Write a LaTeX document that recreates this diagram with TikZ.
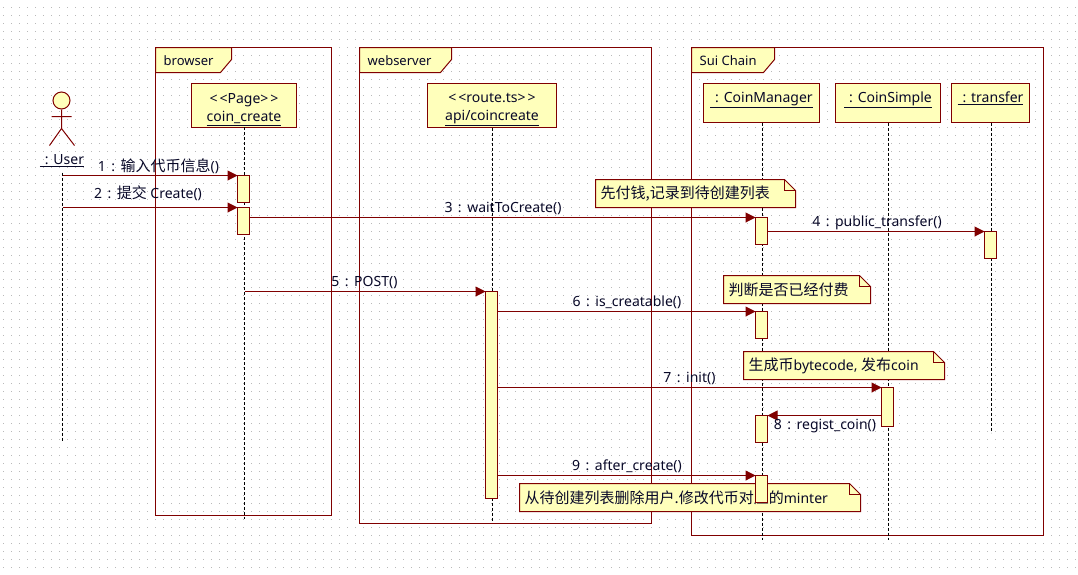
\documentclass[tikz,border=0pt]{standalone}
\usepackage{fontspec}
\setmainfont{Noto Sans}
\newfontfamily\cjk{Noto Sans CJK SC}
\usetikzlibrary{arrows.meta}
\definecolor{umlline}{RGB}{128,0,0}
\definecolor{umlfill}{RGB}{255,255,187}
\definecolor{umlink}{RGB}{8,8,40}
\definecolor{griddot}{RGB}{185,185,185}
\newcommand{\zh}[1]{{\cjk\fontsize{15}{19}\selectfont #1}}
% Message number followed by the wide colon spacing
\newcommand{\seqno}[1]{#1\hspace{5.5pt}:\hspace{5.5pt}}
% Stereotype guillemets written as spaced chevrons
\newcommand{\stereo}[1]{<\kern2pt<#1>\kern2pt>}
% Sticky note: name, left, top, right, bottom, text
\newcommand{\stickynote}[6]{%
  \node[notebody, anchor=north west, minimum width=#4-#2, minimum height=#5-#3] (#1) at (#2,#3) {};
  \draw[umledge, fill=umlfill] (#2,#3) -- (#4-11,#3) -- (#4,#3+11) -- (#4,#5) -- (#2,#5) -- cycle;
  \draw[umledge] (#4-11,#3) -- (#4-11,#3+11) -- (#4,#3+11);
  \node[notetext] (#1text) at (#2+5,#3+14) {#6};
}
% Package frame: name, left, top, right, bottom, tab right, text
\newcommand{\umlframe}[7]{%
  \node[framebody, anchor=north west, minimum width=#4-#2, minimum height=#5-#3] (#1) at (#2,#3) {};
  \draw[umledge, fill=umlfill] (#2,#3) -- (#6,#3) -- (#6,#3+12) -- (#6-11,#3+25) -- (#2,#3+25) -- cycle;
  \node[frametext] (#1tab) at (#2+8,#3+13) {#7};
}
\tikzset{
  umledge/.style={draw=umlline, line width=1pt},
  framebody/.style={umledge, rectangle, inner sep=0pt, outer sep=0pt},
  notebody/.style={rectangle, inner sep=0pt, outer sep=0pt},
  labeltext/.style={text=umlink, inner sep=0pt, font=\fontsize{14}{18}\selectfont},
  frametext/.style={text=umlink, inner sep=0pt, anchor=west, font=\fontsize{13}{18}\selectfont},
  notetext/.style={labeltext, anchor=west},
  objbox/.style={umledge, fill=umlfill, rectangle, inner sep=0pt, outer sep=0pt, anchor=north west, align=center, labeltext},
  activation/.style={umledge, fill=umlfill, rectangle, inner sep=0pt, outer sep=0pt, anchor=north west, minimum width=12pt},
  lifeline/.style={draw=black, line width=1pt, dash pattern=on 3pt off 2pt},
  msgarrow/.style={draw=umlline, line width=1pt, -{Triangle[length=10pt,width=10pt,fill=umlline]}},
}
\begin{document}
\begin{tikzpicture}[x=1pt,y=-1pt]
\useasboundingbox (0,0) rectangle (1078,574);
\fill[white] (0,0) rectangle (1078,574);
% Dotted drawing-sheet grid
\foreach \gx in {0,...,134}{
  \foreach \gy in {0,...,70}{
    \fill[griddot] ({3+8*\gx},{7+8*\gy}) rectangle +(1,1);
  }
}
\begin{scope}[shift={(0.5,0.5)}]
% Package frames
\umlframe{browser}{155}{47}{331}{515}{231}{browser}
\umlframe{webserver}{359}{47}{651}{523}{451}{webserver}
\umlframe{sui}{691}{47}{1043}{535}{774}{Sui Chain}

% Actor
\node[umledge, fill=umlfill, circle, inner sep=0pt, minimum size=17pt] (userhead) at (61,100) {};
\coordinate (userhip) at (61,128);
\coordinate (userarml) at (51,116);
\coordinate (userarmr) at (71,116);
\coordinate (userlegl) at (49,145);
\coordinate (userlegr) at (74,145);
\draw[umledge] (userhead) -- (userhip) (userarml) -- (userarmr) (userlegl) -- (userhip) -- (userlegr);
\node[labeltext] (userlabel) at (61.5,160) {\underline{\hspace{5pt}: User}};

% Object heads
\node[objbox, minimum width=105pt, minimum height=43.5pt] (page) at (191,83) {\rule{0pt}{18pt}\stereo{Page}\\\underline{coin\_create}};
\node[objbox, minimum width=129pt, minimum height=44pt] (route) at (427,83) {\rule{0pt}{18pt}\stereo{route.ts}\\\underline{api/coincreate}};
\node[objbox, minimum width=116pt, minimum height=39pt, text height=19pt, text depth=20pt] (manager) at (703,83) {\underline{\hspace{5pt}: CoinManager}};
\node[objbox, minimum width=105pt, minimum height=39pt, text height=19pt, text depth=20pt] (simple) at (835,83) {\underline{\hspace{5pt}: CoinSimple}};
\node[objbox, minimum width=78pt, minimum height=39pt, text height=19pt, text depth=20pt] (xfer) at (951,83) {\underline{\hspace{5pt}: transfer}};

% Lifeline ends
\coordinate (userend) at (62,440);
\coordinate (pageend) at (244,518);
\coordinate (routeend) at (492,520);
\coordinate (managerend) at (762,539);
\coordinate (simpleend) at (888,539);
\coordinate (xferend) at (991,432);
\draw[lifeline] (userend |- 0,172) -- (userend);
\draw[lifeline] (pageend |- page.south) -- (pageend);
\draw[lifeline] (routeend |- route.south) -- (routeend);
\draw[lifeline] (managerend |- manager.south) -- (managerend);
\draw[lifeline] (simpleend |- simple.south) -- (simpleend);
\draw[lifeline] (xferend |- xfer.south) -- (xferend);

% Notes
\stickynote{notepay}{595}{179}{795}{207}{\zh{先付钱,记录到待创建列表}}
\stickynote{notecheck}{723}{275}{870}{303}{\zh{判断是否已经付费}}
\stickynote{notegen}{743}{351}{944}{379}{\zh{生成币}bytecode, \zh{发布}coin}
\stickynote{notedel}{519}{483}{860}{511}{\zh{从待创建列表删除用户.修改代币对应的}minter}

% Activation bars
\node[activation, minimum height=27pt] (barone) at (237,175) {};
\node[activation, minimum height=27pt] (bartwo) at (237,207) {};
\node[activation, minimum height=27pt] (barwait) at (755,217) {};
\node[activation, minimum height=27pt] (barxfer) at (984,231) {};
\node[activation, minimum height=207pt] (barpost) at (485,291) {};
\node[activation, minimum height=27pt] (barcheck) at (755,311) {};
\node[activation, minimum height=39pt] (barinit) at (881,387) {};
\node[activation, minimum height=27pt] (barreg) at (755,415) {};
\node[activation, minimum height=27pt] (barafter) at (755,475) {};

% Messages
\draw[msgarrow] (barone.north west -| userend) -- (barone.north west);
\draw[msgarrow] (bartwo.north west -| userend) -- (bartwo.north west);
\draw[msgarrow] (barwait.north west -| bartwo.east) -- (barwait.north west);
\draw[msgarrow] (barxfer.north west -| barwait.east) -- (barxfer.north west);
\draw[msgarrow] (barpost.north west -| pageend) -- (barpost.north west);
\draw[msgarrow] (barcheck.north west -| barpost.east) -- (barcheck.north west);
\draw[msgarrow] (barinit.north west -| barpost.east) -- (barinit.north west);
\draw[msgarrow] (barreg.north east -| barinit.west) -- (barreg.north east);
\draw[msgarrow] (barafter.north west -| barpost.east) -- (barafter.north west);

% Message labels
\node[labeltext] (labone) at (158,166) {\seqno{1}\zh{输入代币信息}()};
\node[labeltext] (labtwo) at (147.5,193) {\seqno{2}\zh{提交} Create()};
\node[labeltext] (labwait) at (502.5,208) {\seqno{3}waitToCreate()};
\node[labeltext] (labxfer) at (876.5,222) {\seqno{4}public\_transfer()};
\node[labeltext] (labpost) at (364,282) {\seqno{5}POST()};
\node[labeltext] (labcheck) at (626.5,302) {\seqno{6}is\_creatable()};
\node[labeltext] (labinit) at (689,378) {\seqno{7}init()};
\node[labeltext] (labreg) at (824.5,426) {\seqno{8}regist\_coin()};
\node[labeltext] (labafter) at (626.5,466) {\seqno{9}after\_create()};
\end{scope}
\end{tikzpicture}
\end{document}
